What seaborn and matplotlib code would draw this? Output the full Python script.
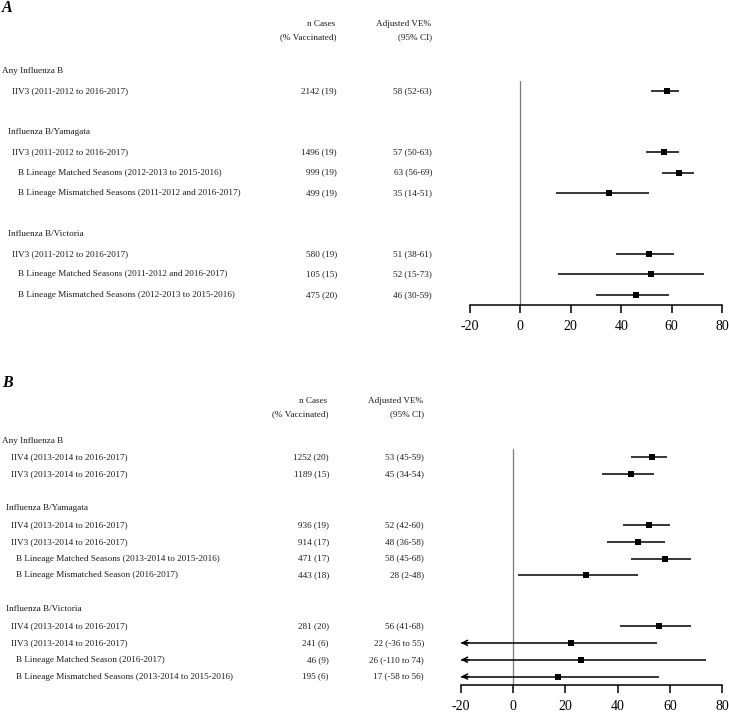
import matplotlib
matplotlib.use("Agg")
import matplotlib.pyplot as plt
from matplotlib.transforms import blended_transform_factory
import numpy as np
import pandas as pd
import seaborn as sns

# ---------------- data ----------------
A_GROUPS = ["Any Influenza B", "Influenza B/Yamagata", "Influenza B/Victoria"]
A_GROUP_OF = [0, 1, 1, 1, 2, 2, 2]
A_LABELS = [
    "IIV3 (2011-2012 to 2016-2017)",
    "IIV3 (2011-2012 to 2016-2017)",
    "B Lineage Matched Seasons (2012-2013 to 2015-2016)",
    "B Lineage Mismatched Seasons (2011-2012 and 2016-2017)",
    "IIV3 (2011-2012 to 2016-2017)",
    "B Lineage Matched Seasons (2011-2012 and 2016-2017)",
    "B Lineage Mismatched Seasons (2012-2013 to 2015-2016)",
]
A_N = [2142, 1496, 999, 499, 580, 105, 475]
A_PCT = [19, 19, 19, 19, 19, 15, 20]
A_VE = [58, 57, 63, 35, 51, 52, 46]
A_LO = [52, 50, 56, 14, 38, 15, 30]
A_HI = [63, 63, 69, 51, 61, 73, 59]

B_GROUPS = ["Any Influenza B", "Influenza B/Yamagata", "Influenza B/Victoria"]
B_GROUP_OF = [0, 0, 1, 1, 1, 1, 2, 2, 2, 2]
B_LABELS = [
    "IIV4 (2013-2014 to 2016-2017)",
    "IIV3 (2013-2014 to 2016-2017)",
    "IIV4 (2013-2014 to 2016-2017)",
    "IIV3 (2013-2014 to 2016-2017)",
    "B Lineage Matched Seasons (2013-2014 to 2015-2016)",
    "B Lineage Mismatched Season (2016-2017)",
    "IIV4 (2013-2014 to 2016-2017)",
    "IIV3 (2013-2014 to 2016-2017)",
    "B Lineage Matched Season (2016-2017)",
    "B Lineage Mismatched Seasons (2013-2014 to 2015-2016)",
]
B_N = [1252, 1189, 936, 914, 471, 443, 281, 241, 46, 195]
B_PCT = [20, 15, 19, 17, 17, 18, 20, 6, 9, 6]
B_VE = [53, 45, 52, 48, 58, 28, 56, 22, 26, 17]
B_LO = [45, 34, 42, 36, 45, 2, 41, -36, -110, -58]
B_HI = [59, 54, 60, 58, 68, 48, 68, 55, 74, 56]

X_TICKS = [-20, 0, 20, 40, 60, 80]
X_MIN, X_MAX = -20, 80

# ---------------- style ----------------
sns.set_style("white")
plt.rcParams["font.family"] = ["Liberation Serif", "DejaVu Serif"]
TXT = "#1a1a1a"
ROW_FS = 6.6
TICK_FS = 10

W, H = 729, 714
fig = plt.figure(figsize=(W / 100, H / 100), dpi=100)


def fx(px):
    return px / W


def fy(py):
    return 1 - py / H


def build(groups, group_of, labels, n, pct, ve, lo, hi):
    rows = []
    line = 0
    for g, gname in enumerate(groups):
        rows.append(dict(kind="group", g=g, label=gname, line=line))
        idx = [i for i, gg in enumerate(group_of) if gg == g]
        for k, i in enumerate(idx):
            lo_i, hi_i = lo[i], hi[i]
            if lo_i < 0:
                ve_txt = f"{ve[i]} ({lo_i} to {hi_i})"
            else:
                ve_txt = f"{ve[i]} ({lo_i}-{hi_i})"
            rows.append(dict(kind="row", g=g, label=labels[i], line=line + 1 + k,
                             n_txt=f"{n[i]} ({pct[i]})", ve_txt=ve_txt,
                             ve=ve[i], lo=lo_i, hi=hi_i))
        line += len(idx) + 2
    return pd.DataFrame(rows), line - 2


def panel(letter, letter_y, head_y, ax_box, df, nlines, x_group0, x_group,
          x_iiv, x_lin, x_n, x_ve):
    left, right, top, bottom = ax_box
    ax = fig.add_axes([fx(left), fy(bottom), fx(right) - fx(left),
                       (bottom - top) / H])
    ax.set_xlim(X_MIN, X_MAX)
    ax.set_ylim(nlines + 0.5, 0.5)

    data = df[df.kind == "row"].copy()
    for _, r in data.iterrows():
        lo_c = max(r.lo, X_MIN)
        ax.plot([lo_c, r.hi], [r.line, r.line], color="black", lw=1.1,
                solid_capstyle="butt", zorder=2)
        if r.lo < X_MIN:
            ax.annotate("", xy=(X_MIN, r.line), xytext=(X_MIN + 3, r.line),
                        arrowprops=dict(arrowstyle="->,head_length=0.35,head_width=0.18",
                                        color="black", lw=1.1,
                                        shrinkA=0, shrinkB=0),
                        annotation_clip=False)
    sns.scatterplot(data=data, x="ve", y="line", marker="s", s=24,
                    color="black", edgecolor="black", linewidth=0, ax=ax,
                    zorder=3, legend=False)
    ax.axvline(0, color="#7a7a7a", lw=0.9, zorder=1)

    for s in ["left", "top", "right"]:
        ax.spines[s].set_visible(False)
    ax.spines["bottom"].set_linewidth(1.1)
    ax.spines["bottom"].set_color("black")
    ax.set_xticks(X_TICKS)
    ax.set_xticklabels([str(t) for t in X_TICKS])
    ax.tick_params(axis="x", direction="out", length=6, width=1.1,
                   colors="black", labelsize=TICK_FS, pad=5, bottom=True)
    ax.set_yticks([])
    ax.set_xlabel("")
    ax.set_ylabel("")
    ax.grid(False)

    tr = blended_transform_factory(fig.transFigure, ax.transData)
    for _, r in df.iterrows():
        if r.kind == "group":
            x = x_group0 if r.g == 0 else x_group
            ax.text(fx(x), r.line, r.label, transform=tr, ha="left",
                    va="center", fontsize=ROW_FS, color=TXT, clip_on=False)
        else:
            x = x_lin if r.label.startswith("B Lineage") else x_iiv
            ax.text(fx(x), r.line, r.label, transform=tr, ha="left",
                    va="center", fontsize=ROW_FS, color=TXT, clip_on=False)
            ax.text(fx(x_n), r.line, r.n_txt, transform=tr, ha="right",
                    va="center", fontsize=ROW_FS, color=TXT, clip_on=False)
            ax.text(fx(x_ve), r.line, r.ve_txt, transform=tr, ha="right",
                    va="center", fontsize=ROW_FS, color=TXT, clip_on=False)

    fig.text(fx(2), fy(letter_y), letter, fontsize=11.5, fontweight="bold",
             fontstyle="italic", ha="left", va="center", color="black")
    h1, h2 = head_y
    fig.text(fx(x_n - 2), fy(h1), "n Cases", ha="right", va="center",
             fontsize=ROW_FS, color=TXT)
    fig.text(fx(x_n), fy(h2), "(% Vaccinated)", ha="right", va="center",
             fontsize=ROW_FS, color=TXT)
    fig.text(fx(x_ve - 1), fy(h1), "Adjusted VE%", ha="right", va="center",
             fontsize=ROW_FS, color=TXT)
    fig.text(fx(x_ve), fy(h2), "(95% CI)", ha="right", va="center",
             fontsize=ROW_FS, color=TXT)
    return ax


dfA, nA = build(A_GROUPS, A_GROUP_OF, A_LABELS, A_N, A_PCT, A_VE, A_LO, A_HI)
dfB, nB = build(B_GROUPS, B_GROUP_OF, B_LABELS, B_N, B_PCT, B_VE, B_LO, B_HI)

# ax_box: left px, right px, top px (line 0.5), bottom px (axis line)
panel("A", 8, (24, 37), (470, 722, 81, 305), dfA, nA,
      2, 8, 12, 18, 337, 432)
panel("B", 383, (401, 414), (461, 722, 449, 685), dfB, nB,
      2, 6, 11, 16, 329, 424)

fig.savefig("out.png", dpi=100, facecolor="white")
